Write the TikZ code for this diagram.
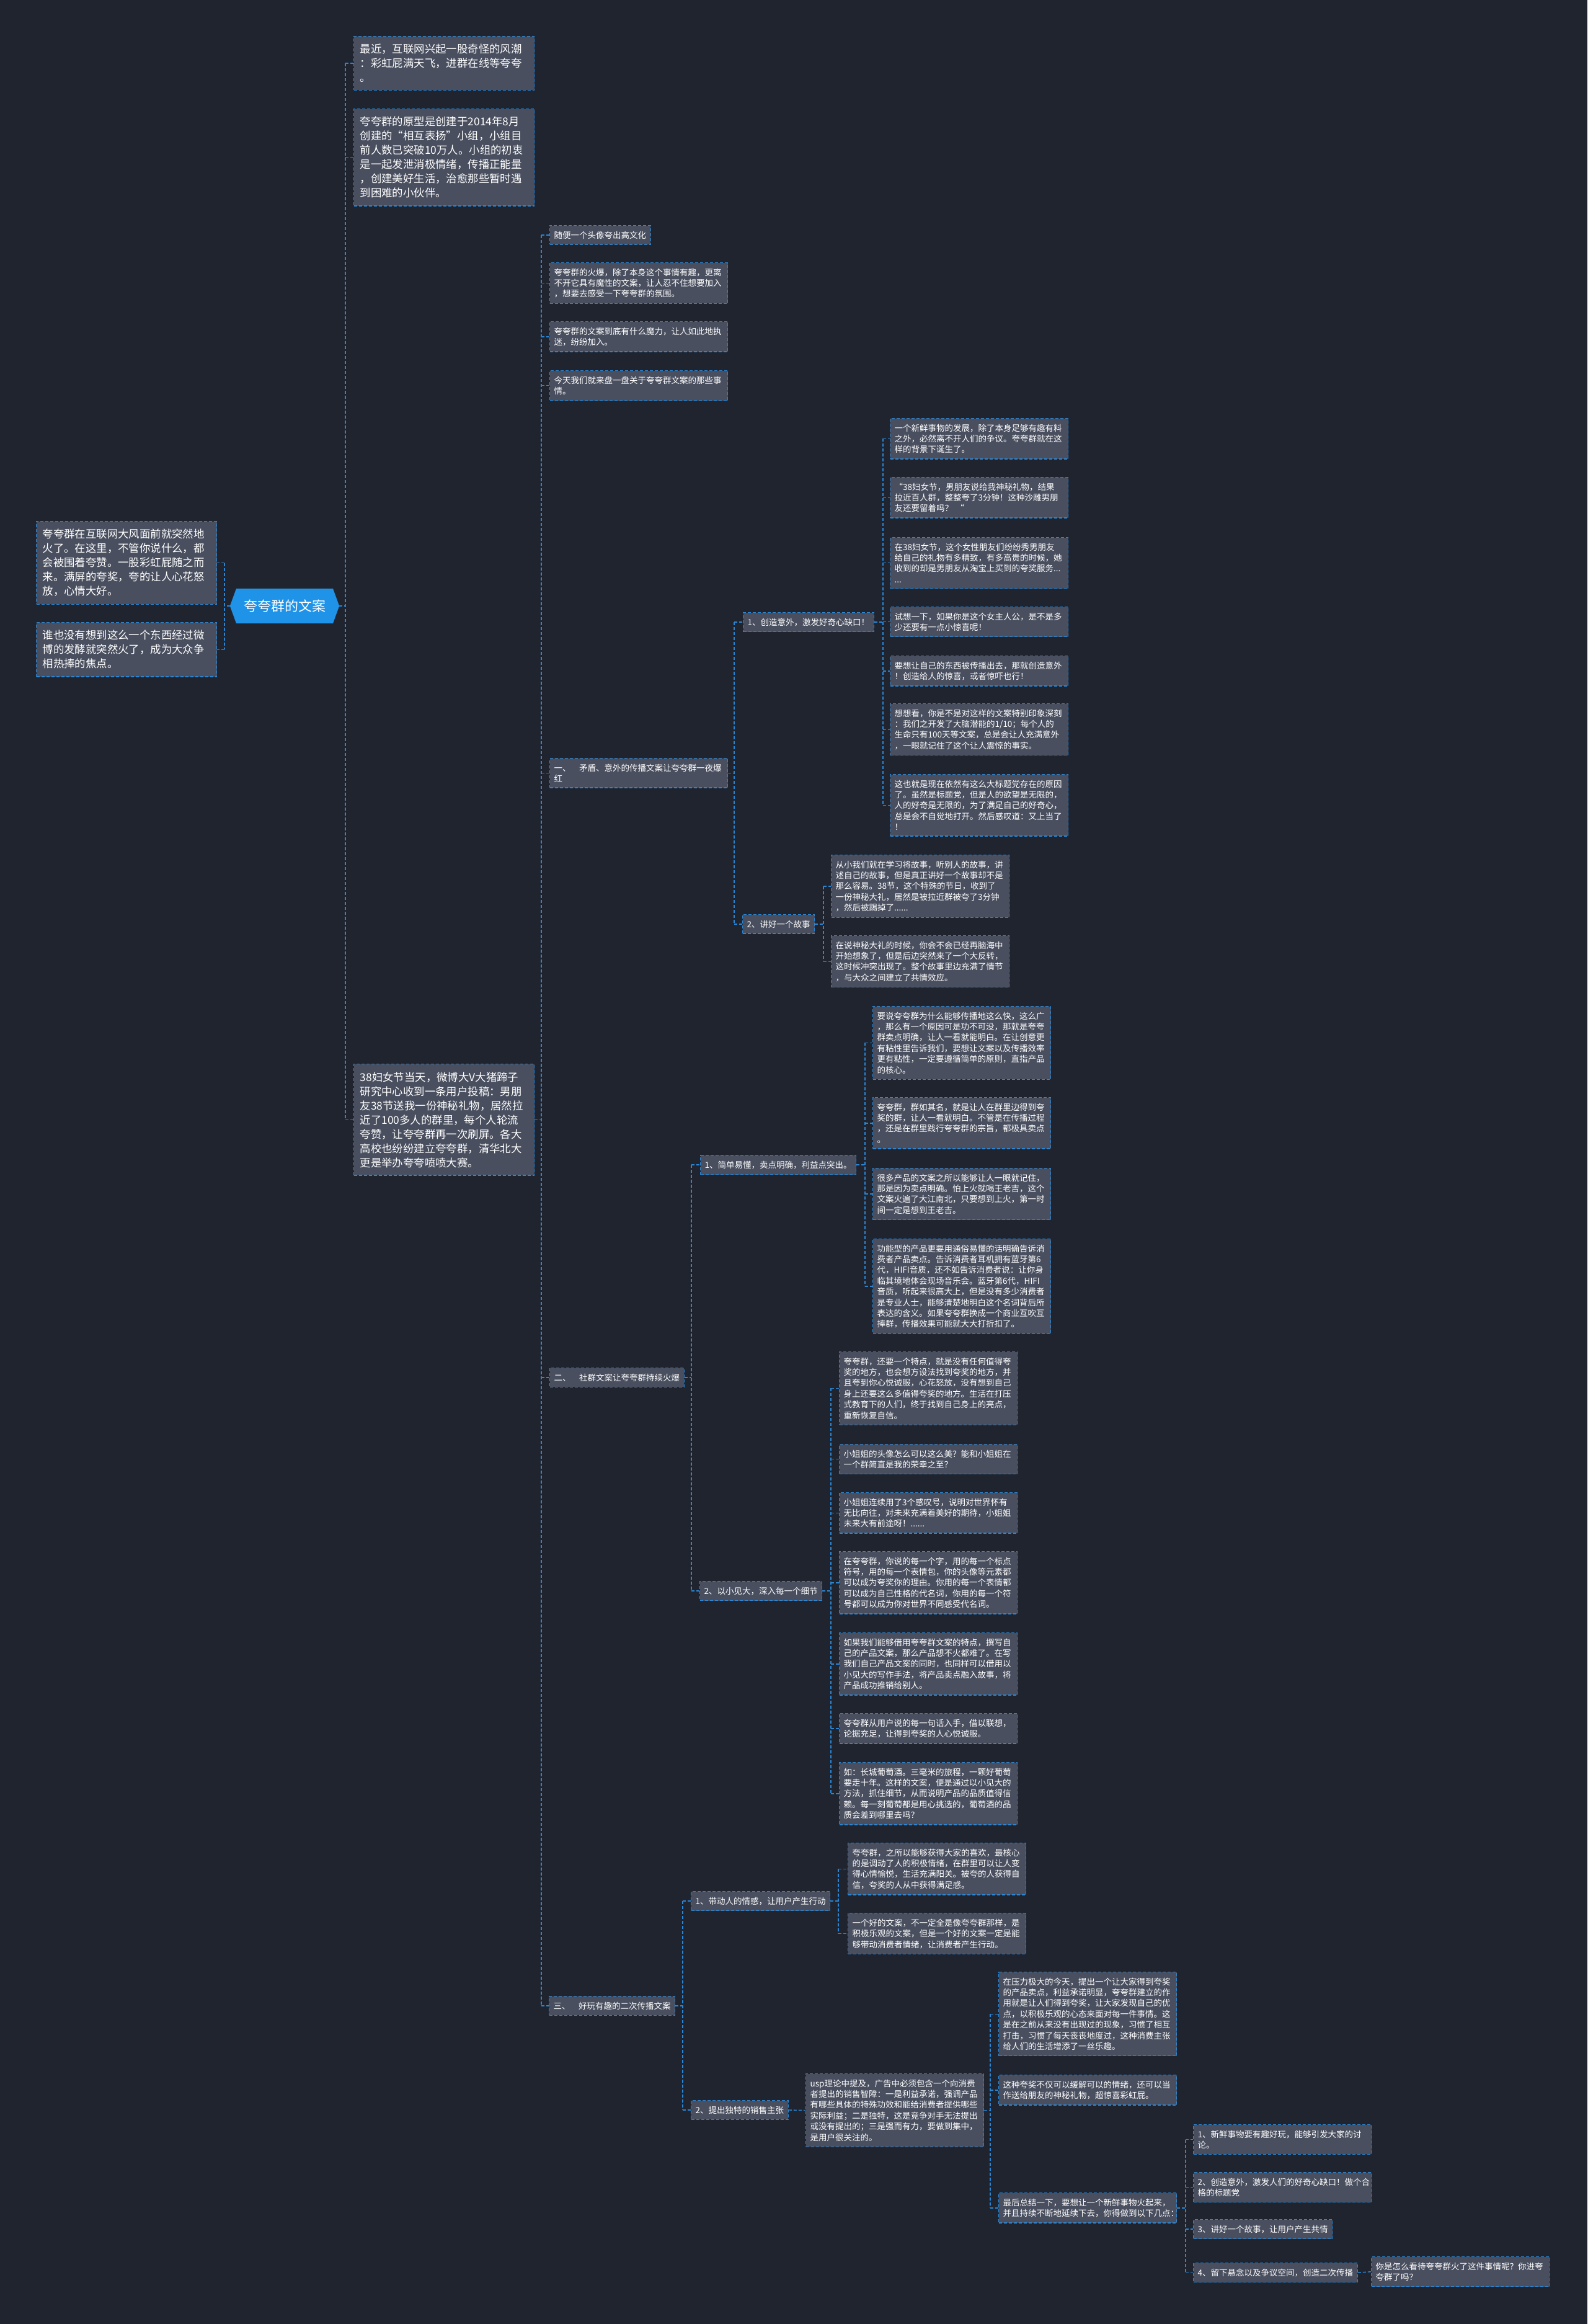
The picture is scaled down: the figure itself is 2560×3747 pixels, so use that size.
\documentclass[tikz,border=0pt]{standalone}
\usepackage{fontspec}
\setmainfont{Noto Sans CJK SC}
\usepackage{tikz}
\usetikzlibrary{shapes.symbols}
\definecolor{pagebg}{HTML}{20242F}
\definecolor{boxbg}{HTML}{494F5F}
\definecolor{lnk}{HTML}{2A86D4}
\definecolor{rootbg}{HTML}{1F93E8}
\newcommand\bigsz{\fontsize{17.4}{23}\selectfont}
\newcommand\smsz{\fontsize{13.5}{17.4}\selectfont}
\tikzset{
  box/.style={draw=lnk, line width=1.4pt, dash pattern=on 5pt off 3pt, fill=boxbg, text=white, align=left, anchor=north west},
  bigbox/.style={box, font=\bigsz, inner xsep=10pt, inner ysep=12.5pt, text width=271pt},
  smbox/.style={box, font=\smsz, inner xsep=7pt, inner ysep=9pt},
  leafbox/.style={smbox, text width=273pt},
  rootbox/.style={signal, signal to=east and west, signal pointer angle=140, fill=rootbg, text=white, font=\fontsize{22}{26}\selectfont, minimum width=170pt, minimum height=56pt, inner xsep=12pt},
  link/.style={draw=lnk, line width=1.4pt, dash pattern=on 5pt off 3pt},
}

\begin{document}
\begin{tikzpicture}[x=1pt, y=-1pt]
\useasboundingbox (0,0) rectangle (2560,3747);
\fill[pagebg] (0,0) rectangle (2560,3747);

% root and the two notes on its left
\node[rootbox] (root) at (459,977) {夸夸群的文案};
\node[bigbox] (l1) at (58,840) {夸夸群在互联网大风面前就突然地\\火了。在这里，不管你说什么，都\\会被围着夸赞。一股彩虹屁随之而\\来。满屏的夸奖，夸的让人心花怒\\放，心情大好。};
\node[bigbox] (l2) at (58,1003) {谁也没有想到这么一个东西经过微\\博的发酵就突然火了，成为大众争\\相热捧的焦点。};

% first level on the right
\node[bigbox] (t1) at (570,58) {最近，互联网兴起一股奇怪的风潮\\：彩虹屁满天飞，进群在线等夸夸\\。};
\node[bigbox] (t2) at (570,175) {夸夸群的原型是创建于2014年8月\\创建的“相互表扬”小组，小组目\\前人数已突破10万人。小组的初衷\\是一起发泄消极情绪，传播正能量\\，创建美好生活，治愈那些暂时遇\\到困难的小伙伴。};
\node[bigbox] (t3) at (570,1715) {38妇女节当天，微博大V大猪蹄子\\研究中心收到一条用户投稿：男朋\\友38节送我一份神秘礼物，居然拉\\近了100多人的群里，每个人轮流\\夸赞，让夸夸群再一次刷屏。各大\\高校也纷纷建立夸夸群，清华北大\\更是举办夸夸喷喷大赛。};

% under the 38 note
\node[smbox] (s1) at (886,363) {随便一个头像夸出高文化};
\node[leafbox] (s2) at (886,423) {夸夸群的火爆，除了本身这个事情有趣，更离\\不开它具有魔性的文案，让人忍不住想要加入\\，想要去感受一下夸夸群的氛围。};
\node[leafbox] (s3) at (886,518) {夸夸群的文案到底有什么魔力，让人如此地执\\迷，纷纷加入。};
\node[leafbox] (s4) at (886,597) {今天我们就来盘一盘关于夸夸群文案的那些事\\情。};
\node[leafbox] (sa) at (886,1222) {一、\hspace{1em}矛盾、意外的传播文案让夸夸群一夜爆\\红};
\node[smbox] (sb) at (886,2205) {二、\hspace{1em}社群文案让夸夸群持续火爆};
\node[smbox] (sc) at (885,3218) {三、\hspace{1em}好玩有趣的二次传播文案};

% part one
\node[smbox] (a1) at (1198,987) {1、创造意外，激发好奇心缺口！};
\node[smbox] (a2) at (1197,1474) {2、讲好一个故事};
\node[leafbox] (a1n1) at (1435,674) {一个新鲜事物的发展，除了本身足够有趣有料\\之外，必然离不开人们的争议。夸夸群就在这\\样的背景下诞生了。};
\node[leafbox] (a1n2) at (1435,769) {“38妇女节，男朋友说给我神秘礼物，结果\\拉近百人群，整整夸了3分钟！这种沙雕男朋\\友还要留着吗？ “};
\node[leafbox] (a1n3) at (1435,866) {在38妇女节，这个女性朋友们纷纷秀男朋友\\给自己的礼物有多精致，有多高贵的时候，她\\收到的却是男朋友从淘宝上买到的夸奖服务...\\...};
\node[leafbox] (a1n4) at (1435,978) {试想一下，如果你是这个女主人公，是不是多\\少还要有一点小惊喜呢！};
\node[leafbox] (a1n5) at (1435,1057) {要想让自己的东西被传播出去，那就创造意外\\！创造给人的惊喜，或者惊吓也行！};
\node[leafbox] (a1n6) at (1435,1134) {想想看，你是不是对这样的文案特别印象深刻\\：我们之开发了大脑潜能的1/10；每个人的\\生命只有100天等文案，总是会让人充满意外\\，一眼就记住了这个让人震惊的事实。};
\node[leafbox] (a1n7) at (1435,1248) {这也就是现在依然有这么大标题党存在的原因\\了。虽然是标题党，但是人的欲望是无限的，\\人的好奇是无限的，为了满足自己的好奇心，\\总是会不自觉地打开。然后感叹道：又上当了\\！};
\node[leafbox] (a2n1) at (1340,1378) {从小我们就在学习将故事，听别人的故事，讲\\述自己的故事，但是真正讲好一个故事却不是\\那么容易。38节，这个特殊的节日，收到了\\一份神秘大礼，居然是被拉近群被夸了3分钟\\，然后被踢掉了......};
\node[leafbox] (a2n2) at (1340,1508) {在说神秘大礼的时候，你会不会已经再脑海中\\开始想象了，但是后边突然来了一个大反转，\\这时候冲突出现了。整个故事里边充满了情节\\，与大众之间建立了共情效应。};

% part two
\node[smbox] (b1) at (1129,1862) {1、简单易懂，卖点明确，利益点突出。};
\node[smbox] (b2) at (1128,2549) {2、以小见大，深入每一个细节};
\node[leafbox] (b1n1) at (1407,1622) {要说夸夸群为什么能够传播地这么快，这么广\\，那么有一个原因可是功不可没，那就是夸夸\\群卖点明确，让人一看就能明白。在让创意更\\有粘性里告诉我们，要想让文案以及传播效率\\更有粘性，一定要遵循简单的原则，直指产品\\的核心。};
\node[leafbox] (b1n2) at (1407,1769) {夸夸群，群如其名，就是让人在群里边得到夸\\奖的群，让人一看就明白。不管是在传播过程\\，还是在群里践行夸夸群的宗旨，都极具卖点\\。};
\node[leafbox] (b1n3) at (1407,1883) {很多产品的文案之所以能够让人一眼就记住，\\那是因为卖点明确。怕上火就喝王老吉，这个\\文案火遍了大江南北，只要想到上火，第一时\\间一定是想到王老吉。};
\node[leafbox] (b1n4) at (1407,1997) {功能型的产品更要用通俗易懂的话明确告诉消\\费者产品卖点。告诉消费者耳机拥有蓝牙第6\\代，HIFI音质，还不如告诉消费者说：让你身\\临其境地体会现场音乐会。蓝牙第6代，HIFI\\音质，听起来很高大上，但是没有多少消费者\\是专业人士，能够清楚地明白这个名词背后所\\表达的含义。如果夸夸群换成一个商业互吹互\\捧群，传播效果可能就大大打折扣了。};
\node[leafbox] (b2n1) at (1353,2179) {夸夸群，还要一个特点，就是没有任何值得夸\\奖的地方，也会想方设法找到夸奖的地方，并\\且夸到你心悦诚服，心花怒放，没有想到自己\\身上还要这么多值得夸奖的地方。生活在打压\\式教育下的人们，终于找到自己身上的亮点，\\重新恢复自信。};
\node[leafbox] (b2n2) at (1353,2328) {小姐姐的头像怎么可以这么美？能和小姐姐在\\一个群简直是我的荣幸之至？};
\node[leafbox] (b2n3) at (1353,2406) {小姐姐连续用了3个感叹号，说明对世界怀有\\无比向往，对未来充满着美好的期待，小姐姐\\未来大有前途呀！......};
\node[leafbox] (b2n4) at (1353,2501) {在夸夸群，你说的每一个字，用的每一个标点\\符号，用的每一个表情包，你的头像等元素都\\可以成为夸奖你的理由。你用的每一个表情都\\可以成为自己性格的代名词，你用的每一个符\\号都可以成为你对世界不同感受代名词。};
\node[leafbox] (b2n5) at (1353,2632) {如果我们能够借用夸夸群文案的特点，撰写自\\己的产品文案，那么产品想不火都难了。在写\\我们自己产品文案的同时，也同样可以借用以\\小见大的写作手法，将产品卖点融入故事，将\\产品成功推销给别人。};
\node[leafbox] (b2n6) at (1353,2762) {夸夸群从用户说的每一句话入手，借以联想，\\论据充足，让得到夸奖的人心悦诚服。};
\node[leafbox] (b2n7) at (1353,2841) {如：长城葡萄酒。三毫米的旅程，一颗好葡萄\\要走十年。这样的文案，便是通过以小见大的\\方法，抓住细节，从而说明产品的品质值得信\\赖。每一刻葡萄都是用心挑选的，葡萄酒的品\\质会差到哪里去吗？};

% part three
\node[smbox] (c1) at (1114,3049) {1、带动人的情感，让用户产生行动};
\node[smbox] (c2) at (1114,3386) {2、提出独特的销售主张};
\node[leafbox] (c1n1) at (1367,2971) {夸夸群，之所以能够获得大家的喜欢，最核心\\的是调动了人的积极情绪，在群里可以让人变\\得心情愉悦，生活充满阳关。被夸的人获得自\\信，夸奖的人从中获得满足感。};
\node[leafbox] (c1n2) at (1367,3084) {一个好的文案，不一定全是像夸夸群那样，是\\积极乐观的文案，但是一个好的文案一定是能\\够带动消费者情绪，让消费者产生行动。};
\node[leafbox] (usp) at (1299,3343) {usp理论中提及，广告中必须包含一个向消费\\者提出的销售智障：一是利益承诺，强调产品\\有哪些具体的特殊功效和能给消费者提供哪些\\实际利益；二是独特，这是竞争对手无法提出\\或没有提出的；三是强而有力，要做到集中，\\是用户很关注的。};
\node[leafbox] (p1) at (1610,3179) {在压力极大的今天，提出一个让大家得到夸奖\\的产品卖点，利益承诺明显，夸夸群建立的作\\用就是让人们得到夸奖，让大家发现自己的优\\点，以积极乐观的心态来面对每一件事情。这\\是在之前从来没有出现过的现象，习惯了相互\\打击，习惯了每天丧丧地度过，这种消费主张\\给人们的生活增添了一丝乐趣。};
\node[leafbox] (p2) at (1610,3345) {这种夸奖不仅可以缓解可以的情绪，还可以当\\作送给朋友的神秘礼物，超惊喜彩虹屁。};
\node[leafbox] (p3) at (1610,3535) {最后总结一下，要想让一个新鲜事物火起来，\\并且持续不断地延续下去，你得做到以下几点：};
\node[leafbox] (q1) at (1924,3425) {1、新鲜事物要有趣好玩，能够引发大家的讨\\论。};
\node[leafbox] (q2) at (1924,3502) {2、创造意外，激发人们的好奇心缺口！做个合\\格的标题党};
\node[smbox] (q3) at (1924,3578) {3、讲好一个故事，让用户产生共情};
\node[smbox] (q4) at (1924,3648) {4、留下悬念以及争议空间，创造二次传播};
\node[leafbox] (q4n1) at (2211,3638) {你是怎么看待夸夸群火了这件事情呢？你进夸\\夸群了吗？};

% bus lines
\coordinate (lb) at (362,0);
\coordinate (rb) at (557,0);
\coordinate (tb) at (873,0);
\coordinate (ab) at (1184,0);
\coordinate (a1b) at (1424,0);
\coordinate (a2b) at (1328,0);
\coordinate (bb) at (1115,0);
\coordinate (b1b) at (1395,0);
\coordinate (b2b) at (1340,0);
\coordinate (cb) at (1101,0);
\coordinate (c1b) at (1352,0);
\coordinate (ub) at (1597,0);
\coordinate (pb) at (1912,0);

\draw[link] (root.west) -- (lb |- root.west);
\draw[link] (lb |- l1.east) -- (lb |- l2.east);
\draw[link] (lb |- l1.east) -- (l1.east); \draw[link] (lb |- l2.east) -- (l2.east);

\draw[link] (root.east) -- (rb |- root.east);
\draw[link] (rb |- t1.west) -- (rb |- t3.west);
\draw[link] (rb |- t1.west) -- (t1.west); \draw[link] (rb |- t2.west) -- (t2.west); \draw[link] (rb |- t3.west) -- (t3.west);

\draw[link] (t3.east) -- (tb |- t3.east);
\draw[link] (tb |- s1.west) -- (tb |- sc.west);
\draw[link] (tb |- s1.west) -- (s1.west); \draw[link] (tb |- s2.west) -- (s2.west);
\draw[link] (tb |- s3.west) -- (s3.west); \draw[link] (tb |- s4.west) -- (s4.west);
\draw[link] (tb |- sa.west) -- (sa.west); \draw[link] (tb |- sb.west) -- (sb.west);
\draw[link] (tb |- sc.west) -- (sc.west);

\draw[link] (sa.east) -- (ab |- sa.east);
\draw[link] (ab |- a1.west) -- (ab |- a2.west);
\draw[link] (ab |- a1.west) -- (a1.west); \draw[link] (ab |- a2.west) -- (a2.west);

\draw[link] (a1.east) -- (a1b |- a1.east);
\draw[link] (a1b |- a1n1.west) -- (a1b |- a1n7.west);
\draw[link] (a1b |- a1n1.west) -- (a1n1.west); \draw[link] (a1b |- a1n2.west) -- (a1n2.west);
\draw[link] (a1b |- a1n3.west) -- (a1n3.west); \draw[link] (a1b |- a1n4.west) -- (a1n4.west);
\draw[link] (a1b |- a1n5.west) -- (a1n5.west); \draw[link] (a1b |- a1n6.west) -- (a1n6.west);
\draw[link] (a1b |- a1n7.west) -- (a1n7.west);

\draw[link] (a2.east) -- (a2b |- a2.east);
\draw[link] (a2b |- a2n1.west) -- (a2b |- a2n2.west);
\draw[link] (a2b |- a2n1.west) -- (a2n1.west); \draw[link] (a2b |- a2n2.west) -- (a2n2.west);

\draw[link] (sb.east) -- (bb |- sb.east);
\draw[link] (bb |- b1.west) -- (bb |- b2.west);
\draw[link] (bb |- b1.west) -- (b1.west); \draw[link] (bb |- b2.west) -- (b2.west);

\draw[link] (b1.east) -- (b1b |- b1.east);
\draw[link] (b1b |- b1n1.west) -- (b1b |- b1n4.west);
\draw[link] (b1b |- b1n1.west) -- (b1n1.west); \draw[link] (b1b |- b1n2.west) -- (b1n2.west);
\draw[link] (b1b |- b1n3.west) -- (b1n3.west); \draw[link] (b1b |- b1n4.west) -- (b1n4.west);

\draw[link] (b2.east) -- (b2b |- b2.east);
\draw[link] (b2b |- b2n1.west) -- (b2b |- b2n7.west);
\draw[link] (b2b |- b2n1.west) -- (b2n1.west); \draw[link] (b2b |- b2n2.west) -- (b2n2.west);
\draw[link] (b2b |- b2n3.west) -- (b2n3.west); \draw[link] (b2b |- b2n4.west) -- (b2n4.west);
\draw[link] (b2b |- b2n5.west) -- (b2n5.west); \draw[link] (b2b |- b2n6.west) -- (b2n6.west);
\draw[link] (b2b |- b2n7.west) -- (b2n7.west);

\draw[link] (sc.east) -- (cb |- sc.east);
\draw[link] (cb |- c1.west) -- (cb |- c2.west);
\draw[link] (cb |- c1.west) -- (c1.west); \draw[link] (cb |- c2.west) -- (c2.west);

\draw[link] (c1.east) -- (c1b |- c1.east);
\draw[link] (c1b |- c1n1.west) -- (c1b |- c1n2.west);
\draw[link] (c1b |- c1n1.west) -- (c1n1.west); \draw[link] (c1b |- c1n2.west) -- (c1n2.west);

\draw[link] (c2.east) -- (usp.west);

\draw[link] (usp.east) -- (ub |- usp.east);
\draw[link] (ub |- p1.west) -- (ub |- p3.west);
\draw[link] (ub |- p1.west) -- (p1.west); \draw[link] (ub |- p2.west) -- (p2.west); \draw[link] (ub |- p3.west) -- (p3.west);

\draw[link] (p3.east) -- (pb |- p3.east);
\draw[link] (pb |- q1.west) -- (pb |- q4.west);
\draw[link] (pb |- q1.west) -- (q1.west); \draw[link] (pb |- q2.west) -- (q2.west);
\draw[link] (pb |- q3.west) -- (q3.west); \draw[link] (pb |- q4.west) -- (q4.west);

\draw[link] (q4.east) -- (q4n1.west);
\end{tikzpicture}
\end{document}
